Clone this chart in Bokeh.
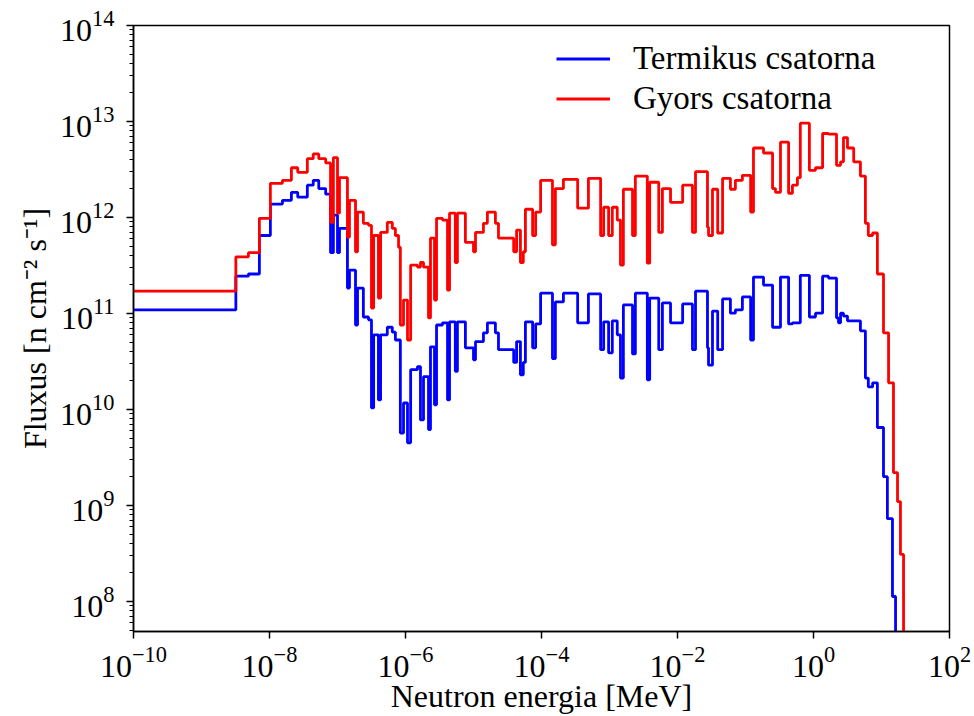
from bokeh.plotting import figure
from bokeh.models import FixedTicker, LogTickFormatter, Range1d
from bokeh.embed import file_html
from bokeh.resources import INLINE

# ---------------- data ----------------
# left edges of the energy bins [MeV] shared by both channels
energy_mev = [
    1e-11, 3.2e-9, 4.9e-9, 7.1e-9, 1.03e-8, 1.55e-8, 2.1e-8, 2.6e-8, 3.6e-8, 4.4e-8,
    5.3e-8, 6.7e-8, 7.9e-8, 8.7e-8, 1.0e-7, 1.07e-7, 1.4e-7, 1.5e-7, 1.84e-7, 1.97e-7,
    2.4e-7, 2.86e-7, 3.16e-7, 3.4e-7, 4.0e-7, 4.3e-7, 5.4e-7, 6.4e-7, 7.1e-7, 7.9e-7,
    8.4e-7, 9.35e-7, 1.07e-6, 1.19e-6, 1.5e-6, 1.66e-6, 1.84e-6, 2.18e-6, 2.33e-6, 2.67e-6,
    2.86e-6, 3.5e-6, 4.15e-6, 4.44e-6, 5.4e-6, 5.8e-6, 7.6e-6, 1.0e-5, 1.07e-5, 1.4e-5,
    1.6e-5, 2.1e-5, 2.33e-5, 3.9e-5, 4.3e-5, 4.9e-5, 5.4e-5, 5.8e-5, 7.4e-5, 8.2e-5,
    9.7e-5, 1.45e-4, 1.6e-4, 2.1e-4, 3.4e-4, 4.9e-4, 7.4e-4, 8.2e-4, 9.7e-4, 1.1e-3,
    1.3e-3, 1.45e-3, 1.6e-3, 2.18e-3, 2.4e-3, 3.6e-3, 3.9e-3, 5.3e-3, 6.0e-3, 7.9e-3,
    1.19e-2, 1.66e-2, 1.84e-2, 2.76e-2, 2.86e-2, 3.27e-2, 3.9e-2, 4.6e-2, 6.0e-2, 7.1e-2,
    9.0e-2, 0.119, 0.131, 0.184, 0.25, 0.276, 0.327, 0.43, 0.49, 0.58,
    0.64, 0.87, 1.07, 1.36, 1.66, 2.18, 2.33, 2.5, 2.76, 3.16,
    3.9, 4.9, 5.8, 6.4, 7.4, 8.7, 10.7,
]

flux_gyors = [
    1.71e11, 3.9e11, 4.3e11, 9.8e11, 2.27e12, 2.44e12, 3.3e12, 2.96e12, 4.1e12, 4.6e12,
    4.1e12, 3.7e12, 8.9e11, 4.2e12, 1.11e12, 2.6e12, 6.25e11, 1.51e12, 4.4e11, 1.14e12,
    8.7e11, 8.3e11, 1.14e11, 6.5e11, 1.45e11, 7.0e11, 8.9e11, 7.7e11, 6.5e11, 4.9e11,
    7.6e10, 1.38e11, 5.3e10, 3.2e11, 3.05e11, 3.4e11, 3.05e11, 9.0e10, 6.1e11, 1.38e11,
    9.8e11, 9.4e11, 1.75e11, 1.11e12, 3.4e11, 1.11e12, 5.5e11, 4.4e11, 7.0e11, 8.7e11,
    1.14e12, 8.7e11, 6.1e11, 4.4e11, 7.4e11, 3.4e11, 4.4e11, 1.22e12, 6.5e11, 1.14e12,
    2.44e12, 5.2e11, 2.0e12, 2.5e12, 1.25e12, 2.56e12, 6.5e11, 1.28e12, 6.5e11, 1.28e12,
    9.4e11, 3.2e11, 1.97e12, 6.5e11, 2.7e12, 3.35e11, 2.33e12, 7.0e11, 2.0e12, 1.44e12,
    2.17e12, 7.0e11, 3.0e12, 7.9e11, 6.5e11, 1.97e12, 6.9e11, 2.56e12, 1.97e12, 2.44e12,
    2.75e12, 1.14e12, 5.3e12, 4.7e12, 2.0e12, 1.83e12, 6.1e12, 1.79e12, 2.17e12, 2.6e12,
    9.6e12, 3.1e12, 3.3e12, 7.5e12, 7.4e12, 3.5e12, 3.5e12, 3.8e12, 6.8e12, 5.3e12,
    3.8e12, 2.7e12, 8.7e11, 6.5e11, 6.9e11, 2.58e11, 6.3e10,
]

flux_termikus = [
    1.09e11, 2.45e11, 2.58e11, 6.5e11, 1.38e12, 1.51e12, 1.83e12, 1.63e12, 2.17e12, 2.44e12,
    2.0e12, 1.75e12, 4.3e11, 1.06e12, 4.3e11, 7.7e11, 1.84e11, 2.83e11, 7.6e10, 1.84e11,
    9.2e10, 8.6e10, 1.04e10, 6.0e10, 1.26e10, 6.0e10, 7.2e10, 6.4e10, 5.3e10, 5.3e10,
    5.7e9, 1.17e10, 4.5e9, 2.6e10, 2.8e10, 7.8e9, 2.2e10, 6.2e9, 4.5e10, 1.12e10,
    7.6e10, 8.0e10, 1.26e10, 8.2e10, 2.5e10, 8.2e10, 4.4e10, 3.3e10, 5.1e10, 6.3e10,
    8.0e10, 6.3e10, 4.2e10, 3.1e10, 5.1e10, 2.3e10, 3.1e10, 8.2e10, 4.4e10, 7.8e10,
    1.63e11, 3.4e10, 1.32e11, 1.63e11, 8.0e10, 1.6e11, 4.2e10, 8.2e10, 3.9e10, 8.4e10,
    6.0e10, 2.13e10, 1.23e11, 3.8e10, 1.63e11, 2.04e10, 1.45e11, 4.2e10, 1.29e11, 8.0e10,
    1.26e11, 4.2e10, 1.71e11, 4.4e10, 2.9e10, 1.06e11, 4.2e10, 1.42e11, 1.01e11, 1.09e11,
    1.49e11, 5.3e10, 2.4e11, 1.98e11, 7.2e10, 7.2e10, 2.4e11, 7.8e10, 8.0e10, 8.0e10,
    2.5e11, 9.2e10, 1.01e11, 2.45e11, 2.34e11, 9.0e10, 8.0e10, 1.01e11, 9.4e10, 8.4e10,
    8.4e10, 6.6e10, 2.13e10, 1.72e10, 1.9e10, 6.5e9, 2.0e9,
]

# high-energy tails (bins differ between the two channels)
tail_energy_termikus = [12.2, 14.5]
tail_flux_termikus = [7.3e8, 1.13e8]
end_energy_termikus = 16.1

tail_energy_gyors = [12.7, 15.0, 17.2, 19.0]
tail_flux_gyors = [1.9e10, 2.2e9, 1.1e9, 3.1e8]
end_energy_gyors = 21.1

cutoff_floor = 1e6  # below the visible range: the spectrum ends

labels = ["Termikus csatorna", "Gyors csatorna"]
colors = ["#0000ff", "#ff0000"]

x_tick_exponents = [-10, -8, -6, -4, -2, 0, 2]
y_tick_exponents = [8, 9, 10, 11, 12, 13, 14]
x_limits = (1e-10, 1e2)
y_limits = (4.88e7, 1e14)

# ---------------- figure ----------------
FONT = "Liberation Serif"

p = figure(width=974, height=716, x_axis_type="log", y_axis_type="log",
           x_range=Range1d(*x_limits), y_range=Range1d(*y_limits),
           output_backend="svg", toolbar_location=None,
           min_border_left=133, min_border_right=25,
           min_border_top=25, min_border_bottom=84)

series = [
    (energy_mev + tail_energy_termikus + [end_energy_termikus],
     flux_termikus + tail_flux_termikus + [cutoff_floor]),
    (energy_mev + tail_energy_gyors + [end_energy_gyors],
     flux_gyors + tail_flux_gyors + [cutoff_floor]),
]
for (xs, ys), lab, col in zip(series, labels, colors):
    p.step(xs, ys, mode="after", line_color=col, line_width=2.8, legend_label=lab)

p.xgrid.visible = False
p.ygrid.visible = False
p.outline_line_color = "black"
p.outline_line_width = 1.5
p.background_fill_color = "white"
p.border_fill_color = "white"

p.xaxis.ticker = FixedTicker(ticks=[10.0 ** k for k in x_tick_exponents], minor_ticks=[])
p.yaxis.ticker = FixedTicker(
    ticks=[10.0 ** k for k in y_tick_exponents],
    minor_ticks=[m * 10.0 ** k for k in range(y_tick_exponents[0] - 1, y_tick_exponents[-1])
                 for m in range(2, 10)])

for ax in (p.xaxis[0], p.yaxis[0]):
    ax.formatter = LogTickFormatter()
    ax.axis_line_width = 1.5
    ax.axis_line_color = "black"
    ax.major_tick_line_width = 1.5
    ax.minor_tick_line_width = 1.0
    ax.major_tick_out = 7
    ax.major_tick_in = 0
    ax.minor_tick_out = 4
    ax.minor_tick_in = 0
    ax.major_label_text_font = FONT
    ax.major_label_text_font_size = "32px"
    ax.major_label_text_color = "black"
    ax.axis_label_text_font = FONT
    ax.axis_label_text_font_size = "32px"
    ax.axis_label_text_font_style = "normal"
    ax.axis_label_text_color = "black"

p.xaxis.major_label_standoff = 8
p.yaxis.major_label_standoff = 12
p.xaxis.axis_label = "Neutron energia [MeV]"
p.yaxis.axis_label = "Fluxus [n cm\u207b\u00b2 s\u207b\u00b9]"
p.xaxis.axis_label_standoff = -2
p.yaxis.axis_label_standoff = 4

lg = p.legend[0]
lg.location = (423, 514)
lg.border_line_alpha = 0
lg.background_fill_alpha = 0
lg.padding = 0
lg.margin = 0
lg.spacing = 3
lg.glyph_width = 54
lg.glyph_height = 35
lg.label_height = 35
lg.label_standoff = 23
lg.label_text_font = FONT
lg.label_text_font_size = "33px"
lg.label_text_color = "black"

open("out.html", "w").write(file_html(p, INLINE))
